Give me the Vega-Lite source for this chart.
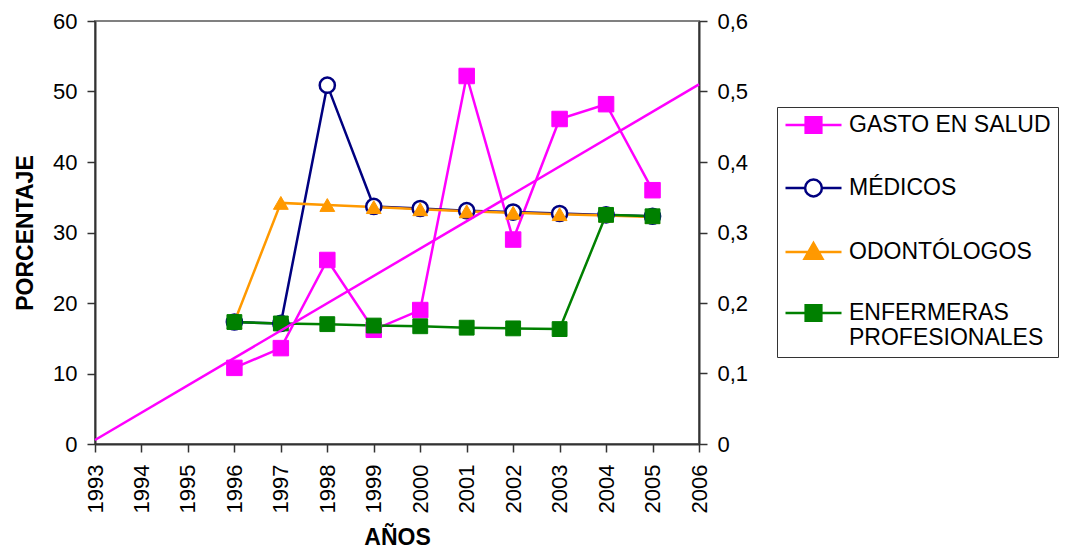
{
  "$schema": "https://vega.github.io/schema/vega-lite/v6.json",
  "width": 604,
  "height": 423,
  "autosize": {"type": "none"},
  "padding": {"left": 95, "top": 21, "right": 366, "bottom": 106},
  "background": "white",
  "config": {
    "font": "Liberation Sans",
    "view": {"stroke": "#808080", "strokeWidth": 2},
    "axis": {
      "labelFont": "Liberation Sans",
      "labelFontSize": 22,
      "labelColor": "#000000",
      "titleFont": "Liberation Sans",
      "titleFontSize": 23,
      "titleFontWeight": "bold",
      "titleColor": "#000000",
      "domainColor": "#333333",
      "domainWidth": 2,
      "tickColor": "#333333",
      "tickWidth": 1.5,
      "tickSize": 8,
      "grid": false
    }
  },
  "datasets": {
    "main": [
      {"series": "GASTO EN SALUD", "year": 1996, "value": 10.8},
      {"series": "GASTO EN SALUD", "year": 1997, "value": 13.6},
      {"series": "GASTO EN SALUD", "year": 1998, "value": 26.1},
      {"series": "GASTO EN SALUD", "year": 1999, "value": 16.2},
      {"series": "GASTO EN SALUD", "year": 2000, "value": 19.0},
      {"series": "GASTO EN SALUD", "year": 2001, "value": 52.2},
      {"series": "GASTO EN SALUD", "year": 2002, "value": 29.0},
      {"series": "GASTO EN SALUD", "year": 2003, "value": 46.1},
      {"series": "GASTO EN SALUD", "year": 2004, "value": 48.2},
      {"series": "GASTO EN SALUD", "year": 2005, "value": 36.0},
      {"series": "MÉDICOS", "year": 1996, "value": 17.3},
      {"series": "MÉDICOS", "year": 1997, "value": 17.1},
      {"series": "MÉDICOS", "year": 1998, "value": 50.9},
      {"series": "MÉDICOS", "year": 1999, "value": 33.7},
      {"series": "MÉDICOS", "year": 2000, "value": 33.4},
      {"series": "MÉDICOS", "year": 2001, "value": 33.1},
      {"series": "MÉDICOS", "year": 2002, "value": 32.9},
      {"series": "MÉDICOS", "year": 2003, "value": 32.7},
      {"series": "MÉDICOS", "year": 2004, "value": 32.5},
      {"series": "MÉDICOS", "year": 2005, "value": 32.3},
      {"series": "ODONTÓLOGOS", "year": 1996, "value": 17.3},
      {"series": "ODONTÓLOGOS", "year": 1997, "value": 34.2},
      {"series": "ODONTÓLOGOS", "year": 1998, "value": 33.9},
      {"series": "ODONTÓLOGOS", "year": 1999, "value": 33.6},
      {"series": "ODONTÓLOGOS", "year": 2000, "value": 33.3},
      {"series": "ODONTÓLOGOS", "year": 2001, "value": 33.0},
      {"series": "ODONTÓLOGOS", "year": 2002, "value": 32.8},
      {"series": "ODONTÓLOGOS", "year": 2003, "value": 32.6},
      {"series": "ODONTÓLOGOS", "year": 2004, "value": 32.4},
      {"series": "ODONTÓLOGOS", "year": 2005, "value": 32.2},
      {"series": "ENFERMERAS PROFESIONALES", "year": 1996, "value": 17.3},
      {"series": "ENFERMERAS PROFESIONALES", "year": 1997, "value": 17.1},
      {"series": "ENFERMERAS PROFESIONALES", "year": 1998, "value": 17.0},
      {"series": "ENFERMERAS PROFESIONALES", "year": 1999, "value": 16.8},
      {"series": "ENFERMERAS PROFESIONALES", "year": 2000, "value": 16.7},
      {"series": "ENFERMERAS PROFESIONALES", "year": 2001, "value": 16.5},
      {"series": "ENFERMERAS PROFESIONALES", "year": 2002, "value": 16.4},
      {"series": "ENFERMERAS PROFESIONALES", "year": 2003, "value": 16.3},
      {"series": "ENFERMERAS PROFESIONALES", "year": 2004, "value": 32.5},
      {"series": "ENFERMERAS PROFESIONALES", "year": 2005, "value": 32.3}
    ],
    "trend": [
      {"year": 1993, "value": 0.0057},
      {"year": 2006, "value": 0.51}
    ]
  },
  "layer": [
    {
      "data": {"name": "main"},
      "encoding": {
        "x": {
          "field": "year", "type": "quantitative",
          "scale": {"domain": [1993, 2006], "nice": false, "zero": false},
          "axis": {
            "values": [1993, 1994, 1995, 1996, 1997, 1998, 1999, 2000, 2001, 2002, 2003, 2004, 2005, 2006],
            "format": "d", "labelAngle": -90, "labelAlign": "right", "labelBaseline": "middle",
            "labelPadding": 12, "labelFlush": false, "labelOverlap": false,
            "title": "AÑOS", "titlePadding": 14
          }
        },
        "y": {
          "field": "value", "type": "quantitative",
          "scale": {"domain": [0, 60], "nice": false},
          "axis": {"values": [0, 10, 20, 30, 40, 50, 60], "labelPadding": 10, "title": "PORCENTAJE", "titlePadding": 15}
        }
      },
      "layer": [
        {
          "mark": {"type": "line", "strokeWidth": 2.5},
          "encoding": {
            "color": {
              "field": "series", "type": "nominal",
              "scale": {
                "domain": ["GASTO EN SALUD", "MÉDICOS", "ODONTÓLOGOS", "ENFERMERAS PROFESIONALES"],
                "range": ["#FF00FF", "#000080", "#FF9900", "#008000"]
              },
              "legend": {
                "orient": "none", "legendX": 682, "legendY": 86,
                "title": null,
                "strokeColor": "#333333", "fillColor": "white", "padding": 7,
                "labelFont": "Liberation Sans", "labelFontSize": 23, "labelColor": "#000000",
                "labelOffset": 6, "labelLimit": 400, "symbolSize": 3136, "rowPadding": 36,
                "labelExpr": "datum.value === 'ENFERMERAS PROFESIONALES' ? ['ENFERMERAS', 'PROFESIONALES'] : datum.value",
                "encode": {
                  "symbols": {
                    "update": {
                      "shape": {"signal": "datum.value === 'MÉDICOS' ? 'M-1,0H-0.3M0.3,0H1M0.3,0A0.3,0.3 0 1,1 -0.3,0A0.3,0.3 0 1,1 0.3,0Z' : datum.value === 'ODONTÓLOGOS' ? 'M-1,0H1M0,-0.32L0.32,0.24H-0.32Z' : 'M-1,0H1M-0.28,-0.28H0.28V0.28H-0.28Z'"},
                      "fill": {"signal": "datum.value === 'MÉDICOS' ? '#FFFFFF' : datum.value === 'GASTO EN SALUD' ? '#FF00FF' : datum.value === 'ODONTÓLOGOS' ? '#FF9900' : '#008000'"},
                      "stroke": {"signal": "datum.value === 'MÉDICOS' ? '#000080' : datum.value === 'GASTO EN SALUD' ? '#FF00FF' : datum.value === 'ODONTÓLOGOS' ? '#FF9900' : '#008000'"},
                      "strokeWidth": {"value": 2.5},
                      "size": {"value": 3136},
                      "y": {"value": 11},
                      "opacity": {"value": 1},
                      "fillOpacity": {"value": 1},
                      "strokeOpacity": {"value": 1}
                    }
                  },
                  "labels": {
                    "update": {
                      "y": {"value": 11}
                    }
                  }
                }
              }
            }
          }
        },
        {
          "transform": [{"filter": "datum.series === 'GASTO EN SALUD'"}],
          "mark": {"type": "point", "shape": "square", "filled": true, "fill": "#FF00FF", "stroke": "#FF00FF", "strokeWidth": 1, "size": 240, "opacity": 1}
        },
        {
          "transform": [{"filter": "datum.series === 'MÉDICOS'"}],
          "mark": {"type": "point", "shape": "circle", "filled": true, "fill": "#FFFFFF", "stroke": "#000080", "strokeWidth": 2.5, "size": 230, "opacity": 1}
        },
        {
          "transform": [{"filter": "datum.series === 'ODONTÓLOGOS'"}],
          "mark": {"type": "point", "shape": "triangle-up", "filled": true, "fill": "#FF9900", "stroke": "#FF9900", "strokeWidth": 1, "size": 220, "opacity": 1}
        },
        {
          "transform": [{"filter": "datum.series === 'ENFERMERAS PROFESIONALES'"}],
          "mark": {"type": "point", "shape": "square", "filled": true, "fill": "#008000", "stroke": "#008000", "strokeWidth": 1, "size": 220, "opacity": 1}
        }
      ]
    },
    {
      "data": {"name": "trend"},
      "mark": {"type": "line", "color": "#FF00FF", "strokeWidth": 2.5},
      "encoding": {
        "x": {"field": "year", "type": "quantitative"},
        "y": {
          "field": "value", "type": "quantitative",
          "scale": {"domain": [0, 0.6], "nice": false},
          "axis": {
            "orient": "right", "values": [0, 0.1, 0.2, 0.3, 0.4, 0.5, 0.6],
            "labelExpr": "datum.value == 0 ? '0' : replace(format(datum.value, '.1f'), '.', ',')",
            "labelPadding": 10, "title": null
          }
        }
      }
    }
  ],
  "resolve": {"scale": {"y": "independent"}}
}
